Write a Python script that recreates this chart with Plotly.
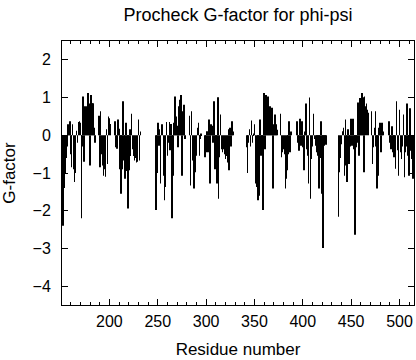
import plotly.graph_objects as go

# Segments of consecutive residues (start residue, G-factor values)
seg_a_start = 152
seg_a = [-2.4, -1.4, -1.0, -0.6, -0.3, 0.29, 0.2, 0.37, -0.5, -0.85, 0.29, -0.9, -1.24, -1.0,
         0.12, -0.2, 0.35, 0.37, 0.33, -2.2, -0.3, 1.03, -0.7, 0.77, 0.5, 0.77, 1.12, 0.84,
         -0.8, 1.07, 0.85, 0.85, 0.2, -0.2]
seg_b_start = 189
seg_b = [0.52, -0.85, 0.64, -0.5, -0.8, -1.07, -0.9, -1.1, 0.16, -0.76, 0.5, 0.45, 0.3]
seg_c_start = 206
seg_c = [0.37, -0.32, -0.36, 0.42, 0.17, -0.9, -1.55, -0.9, 0.9, -0.67, -1.15, 0.33, -0.95,
         -1.94, -0.93, 0.16, -0.55, 0.57, -0.37, -0.55, -0.67, -0.6, -0.72, -0.7, 0.42, -0.67, 0.1]
seg_d_start = 248
seg_d = [-1.98, -1.0, 0.33, -0.28, 0.16, -1.28, 0.29, 0.29, -1.07, -1.72, -1.37, 0.35, -0.54,
         -0.2, 0.35, -0.4, 0.3, -2.2, -1.07, 0.33, 1.03, 0.5, 0.25, -0.32, 0.77, 0.94, 1.07,
         -1.07, 0.64, 0.81, -0.1]
seg_e_start = 283
seg_e = [0.52, -1.33, 0.64, -0.67, -1.41, -1.41, -0.98, -0.54, 0.2, 0.33, -0.54, -0.1, 0.05]
seg_f_start = 299
seg_f = [-0.58, -0.45, 0.11, -0.45, 0.42, -1.28, 0.29, 0.25, -0.2, 0.9, -0.9, -0.3, -1.28,
         1.01, -1.68, -0.58, 0.55, -0.37, -0.45, -0.37, -0.5, -0.63, -0.55, -0.72, 0.16,
         -0.93, 0.2, -0.3, 0.37, 0.1]
seg_g_start = 342
seg_g = [-0.32, -1.0, -0.2, 0.16, -0.3, 0.39, -0.2, 0.05, 0.29, -1.28, -1.37, -0.5, -1.72,
         -1.6, 0.42, -0.54, -0.3, -1.98, 1.12, -0.37, 1.07, 0.5, 1.03, 0.59, 0.77, 0.33, 0.73,
         -1.41, 0.29, 0.55, 0.2, 0.29, 0.15]
seg_h_start = 377
seg_h = [0.57, -0.58, -0.45, -0.37, -0.5, -1.41, -1.15, -0.93, -0.5, 0.37, -0.45, 0.1]
seg_i_start = 394
seg_i = [0.37, -0.2, -0.41, 0.44, -0.28, 0.37, -0.32, -0.93, 0.1, 0.84, -0.37, -0.54, -1.28,
         1.0, -1.68, -0.63, -0.3, 0.57, -0.1, -0.28, -0.37, -0.45, -0.54, -1.41, -0.6, 0.37,
         -1.55, -2.99, -0.28, -0.2, -0.25]
seg_j_start = 437
seg_j = [-2.16, -0.98, -0.6, -0.24, 0.11, 0.2, -1.07, 0.42, -0.8, -1.24, 0.16, -0.76, -0.3,
         0.44, -0.28, 0.44, -0.37, -2.64, -0.32, -0.2, 0.87, -0.54, 0.99, 0.7, 1.12, 1.01,
         -0.98, 1.03, 0.77, 0.84, 0.68, 0.6]
seg_k_start = 471
seg_k = [0.64, -0.76, -0.32, 0.2, 0.64, -0.3, -1.41, -1.07, 0.2, 0.33, -0.45, 0.33, 0.1]
seg_l_start = 489
seg_l = [0.37, -0.2, -0.37, 0.24, -0.45, -0.58, -0.3, -0.89, 0.9, -0.4, -1.07, 0.68, -0.45,
         -0.63, -0.3, 0.55, -1.11, -0.45, -0.3, 0.84, -0.54, -1.07, 0.72, -0.41, -0.63, -1.15]

segments = [
    (seg_a_start, seg_a), (seg_b_start, seg_b), (seg_c_start, seg_c), (seg_d_start, seg_d),
    (seg_e_start, seg_e), (seg_f_start, seg_f), (seg_g_start, seg_g), (seg_h_start, seg_h),
    (seg_i_start, seg_i), (seg_j_start, seg_j), (seg_k_start, seg_k), (seg_l_start, seg_l),
]

residues = []
gfactor = []
for start, vals in segments:
    for i, v in enumerate(vals):
        residues.append(start + i)
        gfactor.append(v)

x_ticks = [200, 250, 300, 350, 400, 450, 500]
y_ticks = [-4, -3, -2, -1, 0, 1, 2]

FONT = "Liberation Sans, Arial, sans-serif"

fig = go.Figure(go.Bar(
    x=residues, y=gfactor, width=0.65,
    marker=dict(color="#000000", line=dict(width=0)),
    showlegend=False, hoverinfo="skip",
))

fig.update_layout(
    width=416, height=360,
    margin=dict(l=62, r=2, t=41, b=55, autoexpand=False),
    paper_bgcolor="white", plot_bgcolor="white",
    font=dict(family=FONT, size=16, color="black"),
    title=dict(text="Procheck G-factor for phi-psi", x=0.572, xref="container", xanchor="center",
               y=1 - 15 / 360, yref="container", yanchor="middle",
               font=dict(family=FONT, size=18, color="black")),
    xaxis=dict(range=[151, 515], tickvals=x_ticks, ticks="inside", ticklen=6, tickwidth=1,
               tickcolor="black", showline=True, linecolor="black", linewidth=1, mirror="ticks",
               showgrid=False, zeroline=False, automargin=False, ticklabelstandoff=2,
               minor=dict(dtick=10, tick0=0, ticks="inside", ticklen=3, tickcolor="black", showgrid=False),
               title=dict(text="Residue number", font=dict(size=17), standoff=13),
               tickfont=dict(size=16)),
    yaxis=dict(range=[-4.5, 2.5], tickvals=y_ticks, ticks="inside", ticklen=6, tickwidth=1,
               tickcolor="black", showline=True, linecolor="black", linewidth=1, mirror="ticks",
               showgrid=False, zeroline=False, automargin=False, ticklabelstandoff=7,
               title=dict(text="G-factor", font=dict(size=17), standoff=12),
               tickfont=dict(size=16)),
)

fig.write_html("out.html", config={"displayModeBar": False},
               post_script="document.body.style.margin='0';document.body.style.overflow='hidden';")
